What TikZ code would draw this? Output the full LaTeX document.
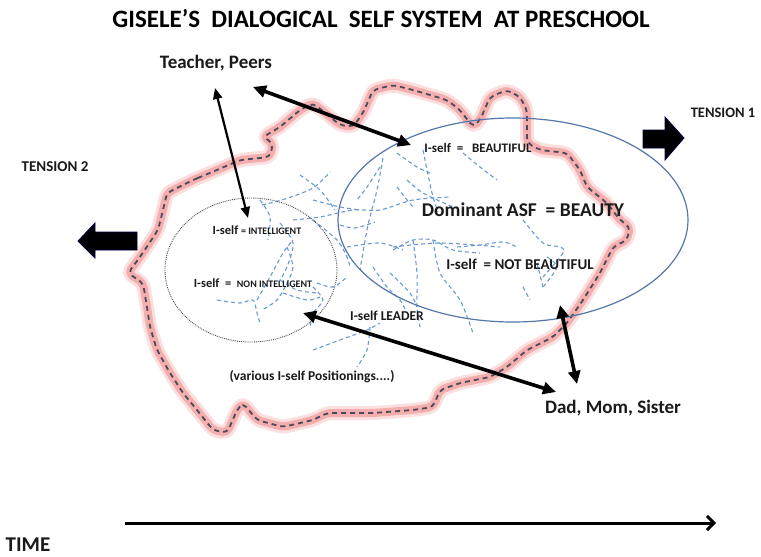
\documentclass[tikz,border=0pt]{standalone}
\usepackage{fontspec}
\setmainfont{Carlito}
\usetikzlibrary{arrows.meta,shapes.geometric}
\newcommand\myfs[1]{\fontsize{#1}{#1}\selectfont}
\definecolor{ink}{HTML}{1A1A1A}
\definecolor{webblue}{HTML}{6A9AD6}
\definecolor{ellblue}{HTML}{5577AA}
\definecolor{glow}{HTML}{F4AEAE}
\definecolor{glowlight}{HTML}{FCE0E0}
\definecolor{dashgray}{HTML}{4A4A5C}
\tikzset{
  lbl/.style={text=ink, inner sep=0pt, anchor=center},
  dbl/.style={line width=3.6pt, {Triangle[length=13pt,width=12pt]}-{Triangle[length=13pt,width=12pt]}},
  dblthin/.style={line width=2.2pt, {Triangle[length=11pt,width=9pt]}-{Triangle[length=11pt,width=9pt]}},
  web/.style={draw=webblue, line width=1.1pt, dash pattern=on 4pt off 3pt},
  blockarrow/.style={fill=black, draw=black!70!blue, line width=0.8pt, line join=miter},
}
\begin{document}
\begin{tikzpicture}[x=1pt,y=-1pt]
\path[use as bounding box, fill=white] (0,0) rectangle (761,557);

% blob outline (glow + dashes)
\def\blob{(193,180) -- (217,170) -- (240,160) -- (270,157) -- (273,143) -- (263,137) -- (280,127) -- (300,110) -- (313,103) -- (340,125) -- (353,127) -- (363,113) -- (373,90) -- (393,85) -- (413,90) -- (447,100) -- (460,110) -- (473,127) -- (480,120) -- (490,97) -- (507,90) -- (520,97) -- (527,110) -- (527,143) -- (540,150) -- (567,153) -- (580,170) -- (587,187) -- (607,203) -- (620,220) -- (630,227) -- (627,240) -- (613,247) -- (600,273) -- (583,300) -- (567,323) -- (553,337) -- (527,350) -- (507,367) -- (490,377) -- (460,383) -- (440,390) -- (433,407) -- (413,410) -- (373,413) -- (327,413) -- (313,420) -- (283,427) -- (257,420) -- (243,403) -- (237,410) -- (227,433) -- (213,430) -- (197,410) -- (183,393) -- (170,373) -- (157,350) -- (150,327) -- (147,307) -- (143,283) -- (128,273) -- (140,257) -- (158,230) -- (163,210) -- (167,193) -- cycle}
\draw[glowlight, line width=14pt, rounded corners=5pt, line join=round] \blob;
\draw[glow, line width=8pt, rounded corners=5pt, line join=round] \blob;
\draw[dashgray, line width=1.8pt, rounded corners=5pt, dash pattern=on 5pt off 4pt] \blob;

% dashed blue web
\draw[web] plot[smooth] coordinates {(262,205) (285,199) (313,188) (330,172)};
\draw[web] plot[smooth] coordinates {(260,200) (270,217) (268,240)};
\draw[web] plot[smooth] coordinates {(293,220) (320,217) (353,210) (380,210) (413,200) (450,197)};
\draw[web] plot[smooth] coordinates {(383,158) (377,190) (368,225) (360,270)};
\draw[web] plot[smooth] coordinates {(423,150) (427,170) (433,197) (438,212)};
\draw[web] plot[smooth] coordinates {(407,180) (423,193) (453,207)};
\draw[web] plot[smooth] coordinates {(463,153) (480,167) (497,180)};
\draw[web] plot[smooth] coordinates {(313,220) (337,240) (347,257) (350,267)};
\draw[web] plot[smooth] coordinates {(393,250) (413,240) (433,240) (453,250) (480,253)};
\draw[web] plot[smooth] coordinates {(413,240) (417,273) (417,307) (420,327)};
\draw[web] plot[smooth] coordinates {(433,240) (440,273) (460,300) (473,333)};
\draw[web] plot[smooth] coordinates {(280,223) (293,243) (287,267) (280,280)};
\draw[web] plot[smooth] coordinates {(373,267) (387,287) (400,300) (407,313)};
\draw[web] plot[smooth] coordinates {(313,350) (340,340) (367,330) (380,323)};
\draw[web] plot[smooth] coordinates {(370,327) (367,350) (357,367)};
\draw[web] plot[smooth] coordinates {(217,300) (240,303) (253,300) (257,313) (260,323)};
\draw[web] plot[smooth] coordinates {(257,300) (270,277) (283,253) (293,240)};
\draw[web] plot[smooth] coordinates {(283,293) (307,300) (320,297)};
\draw[web] plot[smooth] coordinates {(523,220) (543,243) (560,247) (563,253) (543,277)};
\draw[web] plot[smooth] coordinates {(393,247) (440,243) (500,247)};
\draw[web] plot[smooth] coordinates {(547,257) (557,267) (543,287)};
\draw[web] plot[smooth] coordinates {(397,187) (407,200) (413,207)};
\draw[web] plot[smooth] coordinates {(347,247) (380,243) (403,250)};
\draw[web] plot[smooth] coordinates {(313,287) (323,300) (313,313) (310,327)};
\draw[web] plot[smooth] coordinates {(280,280) (297,290) (317,293)};
\draw[web] plot[smooth] coordinates {(287,247) (293,267) (287,283) (277,300) (262,310)};
\draw[web] plot[smooth] coordinates {(317,283) (333,287) (347,277)};
\draw[web] plot[smooth] coordinates {(313,200) (340,207) (360,210)};
\draw[web] plot[smooth] coordinates {(457,247) (480,245) (503,242) (517,247)};
\draw[web] plot[smooth] coordinates {(537,263) (543,287)};
\draw[web] plot[smooth] coordinates {(523,287) (530,300)};
\draw[web] plot[smooth] coordinates {(390,273) (410,293) (417,307)};
\draw[web] plot[smooth] coordinates {(397,153) (417,167) (430,173)};
\draw[web] plot[smooth] coordinates {(380,167) (367,187) (357,200)};
\draw[web] plot[smooth] coordinates {(300,175) (320,190) (335,210)};
\draw[web] plot[smooth] coordinates {(340,225) (355,228) (375,222)};

% ellipse and circle
\node[ellipse, draw=ellblue, line width=1.2pt, minimum width=350pt, minimum height=204pt, inner sep=0pt] (ell) at (513,220) {};
\node[ellipse, draw=black!70, densely dotted, line width=0.9pt, minimum width=172pt, minimum height=144pt, inner sep=0pt] (circ) at (251,270) {};

% texts
\node[lbl, text=black] (title) at (381,18) {\myfs{25}\bfseries GISELE’S\ \ DIALOGICAL\ \ SELF SYSTEM\ \ AT PRESCHOOL};
\node[lbl] (tp) at (216,63) {\myfs{19}\bfseries Teacher, Peers};
\node[lbl] (ten1) at (723,113) {\myfs{14.5}\bfseries TENSION 1};
\node[lbl] (ten2) at (55,167) {\myfs{15}\bfseries TENSION 2};
\node[lbl] (bf) at (478,148) {\myfs{13}\bfseries I-self\ \ =\ \ \ BEAUTIFUL};
\node[lbl] (dom) at (523,210) {\myfs{19.5}\bfseries Dominant ASF\ \ = BEAUTY};
\node[lbl] (nbf) at (520,264) {\myfs{15}\bfseries I-self\ \ = NOT BEAUTIFUL};
\node[lbl] (int) at (257,230) {\bfseries\myfs{12.5}I-self \myfs{10}= INTELLIGENT};
\node[lbl] (nint) at (253,283) {\bfseries\myfs{12.5}I-self\ \ =\ \ \myfs{10}NON INTELLIGENT};
\node[lbl] (lead) at (387,316) {\myfs{13.5}\bfseries I-self LEADER};
\node[lbl] (var) at (312,377) {\myfs{13.5}\bfseries (various I-self Positionings....)};
\node[lbl] (dms) at (613,408) {\myfs{19}\bfseries Dad, Mom, Sister};
\node[lbl] (time) at (28,545) {\myfs{21}\bfseries TIME};

% block arrows
\draw[blockarrow] (643,130) -- (665,130) -- (665,117) -- (684,138) -- (665,160) -- (665,148) -- (643,148) -- cycle;
\draw[blockarrow] (137,232) -- (95,232) -- (95,223) -- (78,241) -- (95,258) -- (95,250) -- (137,250) -- cycle;

% connector end points
\coordinate (tpR) at (253,87);
\coordinate (tpL) at (215,88);
\coordinate (bfL) at (411,145);
\coordinate (intT) at (248,218);
\coordinate (circE) at (303,313);
\coordinate (dmsL) at (556,392);
\coordinate (ellB) at (560,305);
\coordinate (dmsT) at (577,384);
\coordinate (tstart) at (125,523);
\coordinate (tend) at (716,523);

\draw[dbl] (tpR) -- (bfL);
\draw[dblthin] (tpL) -- (intT);
\draw[dbl] (circE) -- (dmsL);
\draw[dbl] (ellB) -- (dmsT);
\draw[line width=3pt, -{Straight Barb[length=7pt,width=14pt]}] (tstart) -- (tend);
\end{tikzpicture}
\end{document}
